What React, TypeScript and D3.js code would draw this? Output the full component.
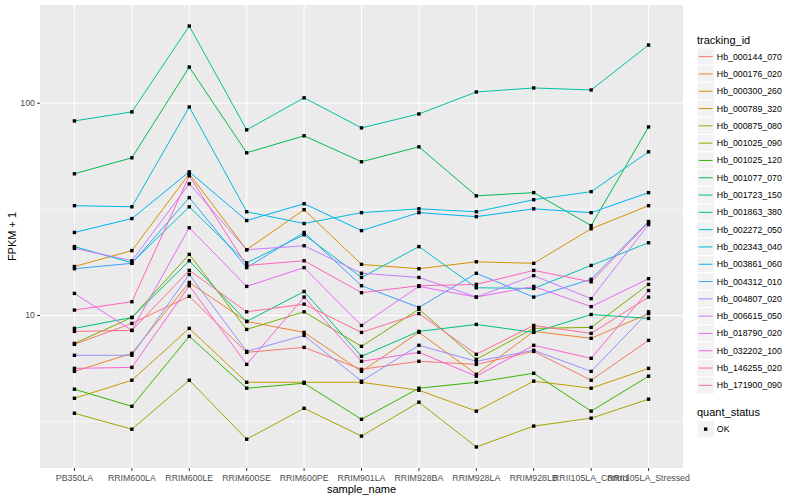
import * as d3 from "d3"

const samples = [
  "PB350LA",
  "RRIM600LA",
  "RRIM600LE",
  "RRIM600SE",
  "RRIM600PE",
  "RRIM901LA",
  "RRIM928BA",
  "RRIM928LA",
  "RRIM928LB",
  "RRII105LA_Control",
  "RRII105LA_Stressed",
]

const trackingIds = [
  "Hb_000144_070",
  "Hb_000176_020",
  "Hb_000300_260",
  "Hb_000789_320",
  "Hb_000875_080",
  "Hb_001025_090",
  "Hb_001025_120",
  "Hb_001077_070",
  "Hb_001723_150",
  "Hb_001863_380",
  "Hb_002272_050",
  "Hb_002343_040",
  "Hb_003861_060",
  "Hb_004312_010",
  "Hb_004807_020",
  "Hb_006615_050",
  "Hb_018790_020",
  "Hb_032202_100",
  "Hb_146255_020",
  "Hb_171900_090",
]

// FPKM + 1, one value per sample
const hb000144_070 = [7.31, 9.17, 12.3, 6.7, 7.07, 5.57, 6.08, 5.88, 6.77, 4.95, 7.63]
const hb000176_020 = [5.45, 6.63, 14.3, 9.37, 8.32, 5.45, 8.32, 5.28, 8.41, 7.8, 10.2]
const hb000300_260 = [17.0, 20.2, 46.5, 20.4, 31.5, 17.4, 16.6, 17.9, 17.6, 25.6, 32.9]
const hb000789_320 = [4.07, 4.95, 8.69, 4.84, 4.84, 4.84, 4.44, 3.54, 4.9, 4.54, 5.63]
const hb000875_080 = [3.46, 2.91, 4.95, 2.61, 3.65, 2.7, 3.9, 2.4, 3.01, 3.28, 4.03]
const hb001025_090 = [7.38, 9.78, 19.4, 8.59, 10.4, 7.15, 10.7, 6.21, 8.69, 8.78, 14.0]
const hb001025_120 = [4.49, 3.73, 7.97, 4.54, 4.79, 3.24, 4.54, 4.84, 5.34, 3.54, 5.17]
const hb001077_070 = [46.5, 55.3, 148, 58.4, 70.2, 53.0, 62.3, 36.6, 37.9, 26.5, 77.3]
const hb001723_150 = [8.69, 9.78, 18.1, 9.37, 12.97, 6.42, 8.41, 9.07, 8.32, 10.1, 9.68]
const hb001863_380 = [82.5, 91.0, 231, 74.9, 106, 76.5, 89.0, 113, 118, 115.5, 188]
const hb002272_050 = [21.1, 17.7, 32.5, 17.7, 24.0, 15.1, 21.1, 13.5, 13.4, 17.2, 22.0]
const hb002343_040 = [32.9, 32.5, 96.0, 30.8, 27.1, 30.5, 31.8, 30.8, 35.1, 38.3, 59.0]
const hb003861_060 = [24.6, 28.6, 47.5, 28.0, 33.6, 25.1, 30.5, 29.2, 31.8, 30.5, 37.9]
const hb004312_010 = [16.6, 17.6, 35.9, 16.8, 24.6, 13.8, 10.9, 15.8, 12.2, 14.8, 27.7]
const hb004807_020 = [6.49, 6.49, 15.6, 6.77, 8.05, 4.9, 7.23, 6.08, 6.85, 5.45, 10.4]
const hb006615_050 = [20.7, 18.1, 41.7, 20.4, 21.3, 15.8, 15.1, 12.2, 15.4, 12.0, 26.8]
const hb018790_020 = [12.7, 8.5, 25.9, 13.7, 16.8, 8.97, 13.7, 12.2, 13.7, 11.0, 14.9]
const hb032202_100 = [5.63, 5.69, 13.8, 5.88, 12.2, 6.08, 6.7, 5.17, 7.23, 6.28, 13.1]
const hb146255_020 = [10.6, 11.6, 45.5, 17.2, 18.1, 12.8, 13.8, 14.0, 16.3, 14.4, 27.4]
const hb171900_090 = [8.41, 8.5, 16.3, 10.4, 11.3, 8.32, 10.2, 6.56, 8.97, 8.23, 12.2]

const seriesValues = [
  hb000144_070, hb000176_020, hb000300_260, hb000789_320, hb000875_080,
  hb001025_090, hb001025_120, hb001077_070, hb001723_150, hb001863_380,
  hb002272_050, hb002343_040, hb003861_060, hb004312_010, hb004807_020,
  hb006615_050, hb018790_020, hb032202_100, hb146255_020, hb171900_090,
]

const yBreaks = [10, 100]
const yMinorBreaks = [3.1623, 31.623]

// ggplot default hue palette for 20 levels
const palette = [
  "#F8766D", "#EA8331", "#D89000", "#C09B00", "#A3A500",
  "#7CAE00", "#39B600", "#00BB4E", "#00BF7D", "#00C1A3",
  "#00BFC4", "#00BAE0", "#00B0F6", "#35A2FF", "#9590FF",
  "#C77CFF", "#E76BF3", "#FA62DB", "#FF62BC", "#FF6C91",
]

const font = "'Liberation Sans', Arial, Helvetica, sans-serif"

export default function App() {
  const width = 800
  const height = 500
  const panel = { left: 40, right: 683, top: 5, bottom: 468 }

  const xScale = d3.scalePoint<string>().domain(samples).range([panel.left, panel.right]).padding(0.6)

  const all = seriesValues.flat()
  const logMin = Math.log10(d3.min(all) || 1)
  const logMax = Math.log10(d3.max(all) || 10)
  const pad = (logMax - logMin) * 0.05
  const yScale = d3
    .scaleLog()
    .domain([10 ** (logMin - pad), 10 ** (logMax + pad)])
    .range([panel.bottom, panel.top])

  const line = d3
    .line<number>()
    .x((_, i) => xScale(samples[i]) ?? 0)
    .y((d) => yScale(d))

  const legendX = 697
  const keySize = 17.3
  const firstKey = 48

  return (
    <div>
      <style>{"body{margin:0}"}</style>
      <svg width={width} height={height} style={{ display: "block", background: "white" }} fontFamily={font}>
        <rect
          x={panel.left}
          y={panel.top}
          width={panel.right - panel.left}
          height={panel.bottom - panel.top}
          fill="#EBEBEB"
        />
        {yMinorBreaks.map((d) => (
          <line key={"mn" + d} x1={panel.left} x2={panel.right} y1={yScale(d)} y2={yScale(d)} stroke="white" strokeWidth={0.55} />
        ))}
        {yBreaks.map((d) => (
          <line key={"mj" + d} x1={panel.left} x2={panel.right} y1={yScale(d)} y2={yScale(d)} stroke="white" strokeWidth={1.1} />
        ))}
        {samples.map((s) => (
          <line key={"vx" + s} x1={xScale(s)} x2={xScale(s)} y1={panel.top} y2={panel.bottom} stroke="white" strokeWidth={1.1} />
        ))}

        {seriesValues.map((vals, i) => (
          <path key={"l" + i} d={line(vals) || ""} fill="none" stroke={palette[i]} strokeWidth={1} />
        ))}
        {seriesValues.map((vals, i) =>
          vals.map((v, j) => (
            <rect
              key={"p" + i + "_" + j}
              x={(xScale(samples[j]) ?? 0) - 1.7}
              y={yScale(v) - 1.7}
              width={3.4}
              height={3.4}
              fill="black"
            />
          ))
        )}

        {/* axes */}
        {samples.map((s) => (
          <g key={"xt" + s}>
            <line x1={xScale(s)} x2={xScale(s)} y1={panel.bottom} y2={panel.bottom + 3} stroke="#333333" strokeWidth={1} />
            <text x={xScale(s)} y={panel.bottom + 12.5} textAnchor="middle" fontSize={8.8} fill="#4D4D4D">
              {s}
            </text>
          </g>
        ))}
        {yBreaks.map((d) => (
          <g key={"yt" + d}>
            <line x1={panel.left - 3} x2={panel.left} y1={yScale(d)} y2={yScale(d)} stroke="#333333" strokeWidth={1} />
            <text x={panel.left - 5} y={yScale(d)} textAnchor="end" dominantBaseline="central" fontSize={8.8} fill="#4D4D4D">
              {d}
            </text>
          </g>
        ))}
        <text x={(panel.left + panel.right) / 2} y={493} textAnchor="middle" fontSize={11} fill="black">
          sample_name
        </text>
        <text
          transform={`translate(16, ${(panel.top + panel.bottom) / 2}) rotate(-90)`}
          textAnchor="middle"
          fontSize={11}
          fill="black"
        >
          FPKM + 1
        </text>

        {/* legend: tracking_id */}
        <text x={legendX} y={44} fontSize={11} fill="black">
          tracking_id
        </text>
        {trackingIds.map((id, i) => {
          const y = firstKey + i * keySize
          return (
            <g key={"lg" + id}>
              <rect x={legendX} y={y} width={keySize} height={keySize} fill="#F2F2F2" stroke="white" strokeWidth={1} />
              <line x1={legendX + 1.7} x2={legendX + keySize - 1.7} y1={y + keySize / 2} y2={y + keySize / 2} stroke={palette[i]} strokeWidth={1} />
              <text x={legendX + keySize + 2.5} y={y + keySize / 2} dominantBaseline="central" fontSize={8.8} fill="black">
                {id}
              </text>
            </g>
          )
        })}

        {/* legend: quant_status */}
        <text x={legendX} y={416} fontSize={11} fill="black">
          quant_status
        </text>
        <rect x={legendX} y={420.5} width={keySize} height={keySize} fill="#F2F2F2" stroke="white" strokeWidth={1} />
        <rect x={legendX + keySize / 2 - 1.7} y={420.5 + keySize / 2 - 1.7} width={3.4} height={3.4} fill="black" />
        <text x={legendX + keySize + 2.5} y={420.5 + keySize / 2} dominantBaseline="central" fontSize={8.8} fill="black">
          OK
        </text>
      </svg>
    </div>
  )
}
